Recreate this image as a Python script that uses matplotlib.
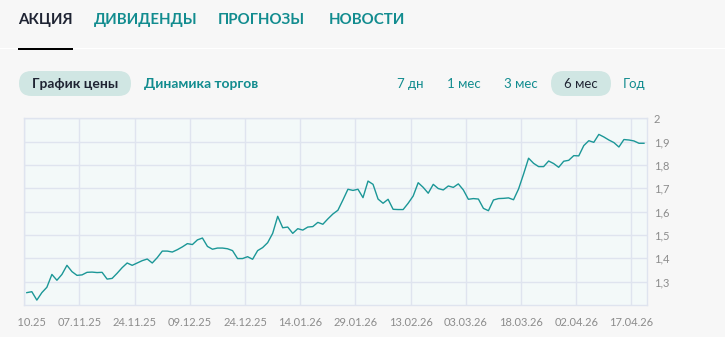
import matplotlib
matplotlib.use("Agg")
import matplotlib.pyplot as plt
from matplotlib.patches import FancyBboxPatch, Rectangle
from matplotlib.transforms import Bbox

plt.rcParams['font.family'] = ['Lato', 'DejaVu Sans']

# цена акции, по торговым дням
prices = [1.253, 1.257, 1.221, 1.253, 1.276, 1.331, 1.306, 1.331, 1.370, 1.343,
          1.327, 1.329, 1.340, 1.341, 1.339, 1.340, 1.311, 1.314, 1.336, 1.360,
          1.380, 1.370, 1.380, 1.390, 1.397, 1.380, 1.403, 1.431, 1.431, 1.427,
          1.437, 1.449, 1.463, 1.459, 1.479, 1.487, 1.451, 1.439, 1.444, 1.444,
          1.441, 1.433, 1.399, 1.399, 1.407, 1.396, 1.433, 1.446, 1.467, 1.507,
          1.580, 1.531, 1.534, 1.507, 1.527, 1.521, 1.534, 1.536, 1.554, 1.546,
          1.569, 1.590, 1.606, 1.650, 1.696, 1.691, 1.696, 1.660, 1.731, 1.717,
          1.654, 1.636, 1.653, 1.610, 1.609, 1.609, 1.636, 1.667, 1.724, 1.704,
          1.679, 1.717, 1.699, 1.693, 1.710, 1.704, 1.719, 1.693, 1.653, 1.656,
          1.654, 1.614, 1.604, 1.650, 1.656, 1.657, 1.659, 1.651, 1.697, 1.761,
          1.829, 1.807, 1.793, 1.793, 1.817, 1.806, 1.790, 1.816, 1.820, 1.840,
          1.839, 1.883, 1.904, 1.897, 1.931, 1.920, 1.907, 1.896, 1.877, 1.909,
          1.907, 1.903, 1.893, 1.893]

date_labels = ['23.10.25', '07.11.25', '24.11.25', '09.12.25', '24.12.25', '14.01.26',
               '29.01.26', '13.02.26', '03.03.26', '18.03.26', '02.04.26', '17.04.26']
y_ticks = [1.3, 1.4, 1.5, 1.6, 1.7, 1.8, 1.9, 2.0]

tabs = ['АКЦИЯ', 'ДИВИДЕНДЫ', 'ПРОГНОЗЫ', 'НОВОСТИ']
periods = ['7 дн', '1 мес', '3 мес', '6 мес', 'Год']

TEAL = '#128c8f'
DARK = '#1f2433'
GRAY = '#8c8c8c'
PILL = '#d0e6e3'
GRID = '#dfe4ef'

W, H = 725, 337
fig = plt.figure(figsize=(W / 100, H / 100), dpi=100, facecolor='#f7f7f7')

# шапка со вкладками и кнопками (координаты в пикселях)
hdr = fig.add_axes([0, 0, 1, 1])
hdr.set_xlim(0, W)
hdr.set_ylim(H, 0)
hdr.axis('off')

tab_x = [18.5, 94, 218, 329]
for i, t in enumerate(tabs):
    hdr.text(tab_x[i], 20, t, fontsize=10.8, fontweight='bold',
             color=DARK if i == 0 else TEAL, va='center', ha='left')
hdr.add_patch(Rectangle((0, 47.5), W, 1.2, color='white', lw=0))
hdr.add_patch(Rectangle((18.5, 47.5), 55, 2.5, color='black', lw=0))

hdr.add_patch(FancyBboxPatch((19, 71), 112, 25, boxstyle='round,pad=0,rounding_size=12.5',
                             fc=PILL, ec='none'))
hdr.text(75, 83.5, 'График цены', fontsize=10, fontweight='bold', color=DARK,
         ha='center', va='center')
hdr.text(144, 83.5, 'Динамика торгов', fontsize=10, fontweight='bold', color=TEAL,
         ha='left', va='center')

period_x = [410, 463.5, 521, 581, 634]
hdr.add_patch(FancyBboxPatch((551, 71), 60, 25, boxstyle='round,pad=0,rounding_size=12.5',
                             fc=PILL, ec='none'))
for i, p in enumerate(periods):
    hdr.text(period_x[i], 83.5, p, fontsize=9.5, color=DARK if p == '6 мес' else TEAL,
             ha='center', va='center')

# график
ax = fig.add_axes([24.3 / W, (H - 305) / H, (647 - 24.3) / W, (305 - 118.3) / H])
ax.set_facecolor('#f3f9f9')
x = list(range(len(prices)))
ax.plot(x, prices, color='#1b9797', lw=1.0)

ax.set_xlim(-0.5, 123.6)
ax.set_ylim(1.2, 2.0)
ax.set_xticks([-0.5 + 11 * k for k in range(len(date_labels))])
ax.set_xticklabels(date_labels)
ax.set_yticks(y_ticks)
ax.set_yticklabels([('%g' % v).replace('.', ',') for v in y_ticks])
ax.yaxis.tick_right()
ax.tick_params(length=0, labelsize=8, labelcolor=GRAY)
ax.tick_params(axis='x', pad=9)
ax.tick_params(axis='y', pad=5)
ax.grid(True, color=GRID, lw=1.0)
for s in ax.spines.values():
    s.set_color(GRID)
    s.set_linewidth(1.0)

# первая подпись обрезана краем блока
lbl = ax.get_xticklabels()[0]
lbl.set_clip_on(True)
lbl.set_clip_box(Bbox.from_extents(18, 0, W, H))

fig.savefig('out.png', dpi=100, facecolor=fig.get_facecolor())
